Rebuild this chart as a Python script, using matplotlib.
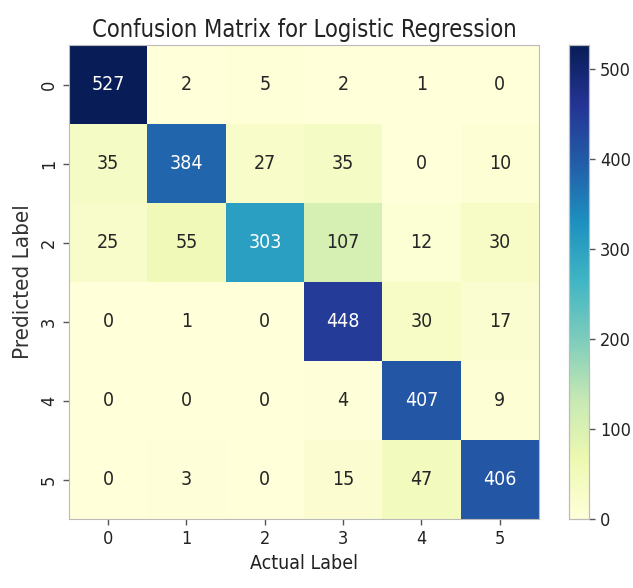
import matplotlib
matplotlib.use("Agg")
import matplotlib.pyplot as plt
import seaborn as sns
import numpy as np

labels = ["0", "1", "2", "3", "4", "5"]
row0 = [527, 2, 5, 2, 1, 0]
row1 = [35, 384, 27, 35, 0, 10]
row2 = [25, 55, 303, 107, 12, 30]
row3 = [0, 1, 0, 448, 30, 17]
row4 = [0, 0, 0, 4, 407, 9]
row5 = [0, 3, 0, 15, 47, 406]
matrix = np.array([row0, row1, row2, row3, row4, row5])

plt.rcParams['font.family'] = ['DejaVu Sans']
plt.rcParams['font.stretch'] = 'condensed'

fig = plt.figure(figsize=(6.33, 5.88), dpi=100)
ax = fig.add_axes([0.109, 0.1173, 0.7425, 0.806])
cax = fig.add_axes([0.899, 0.1173, 0.0316, 0.806])

sns.heatmap(matrix, annot=True, fmt="d", cmap="YlGnBu", ax=ax, cbar_ax=cax,
            xticklabels=labels, yticklabels=labels,
            annot_kws={"fontsize": 14})

for s in ax.spines.values():
    s.set_visible(True)
    s.set_color("#bbbbbb")
    s.set_linewidth(0.8)
cax.set_frame_on(True)
for s in cax.spines.values():
    s.set_visible(True)
    s.set_color("#bbbbbb")
    s.set_linewidth(0.8)

ax.tick_params(axis='both', labelsize=13, length=4.5, width=1, color="#555555",
               labelcolor="#222222")
ax.set_yticklabels(labels, rotation=90, va='center')
cax.tick_params(labelsize=13, length=4.5, width=1, color="#555555",
                labelcolor="#222222")
cax.set_yticks([0, 100, 200, 300, 400, 500])

ax.set_title("Confusion Matrix for Logistic Regression", fontsize=17, pad=6,
             color="#222222")
ax.set_xlabel("Actual Label", fontsize=14, color="#222222", labelpad=4)
ax.set_ylabel("Predicted Label", fontsize=16, color="#333333", labelpad=5)

fig.savefig("out.png", dpi=100)
